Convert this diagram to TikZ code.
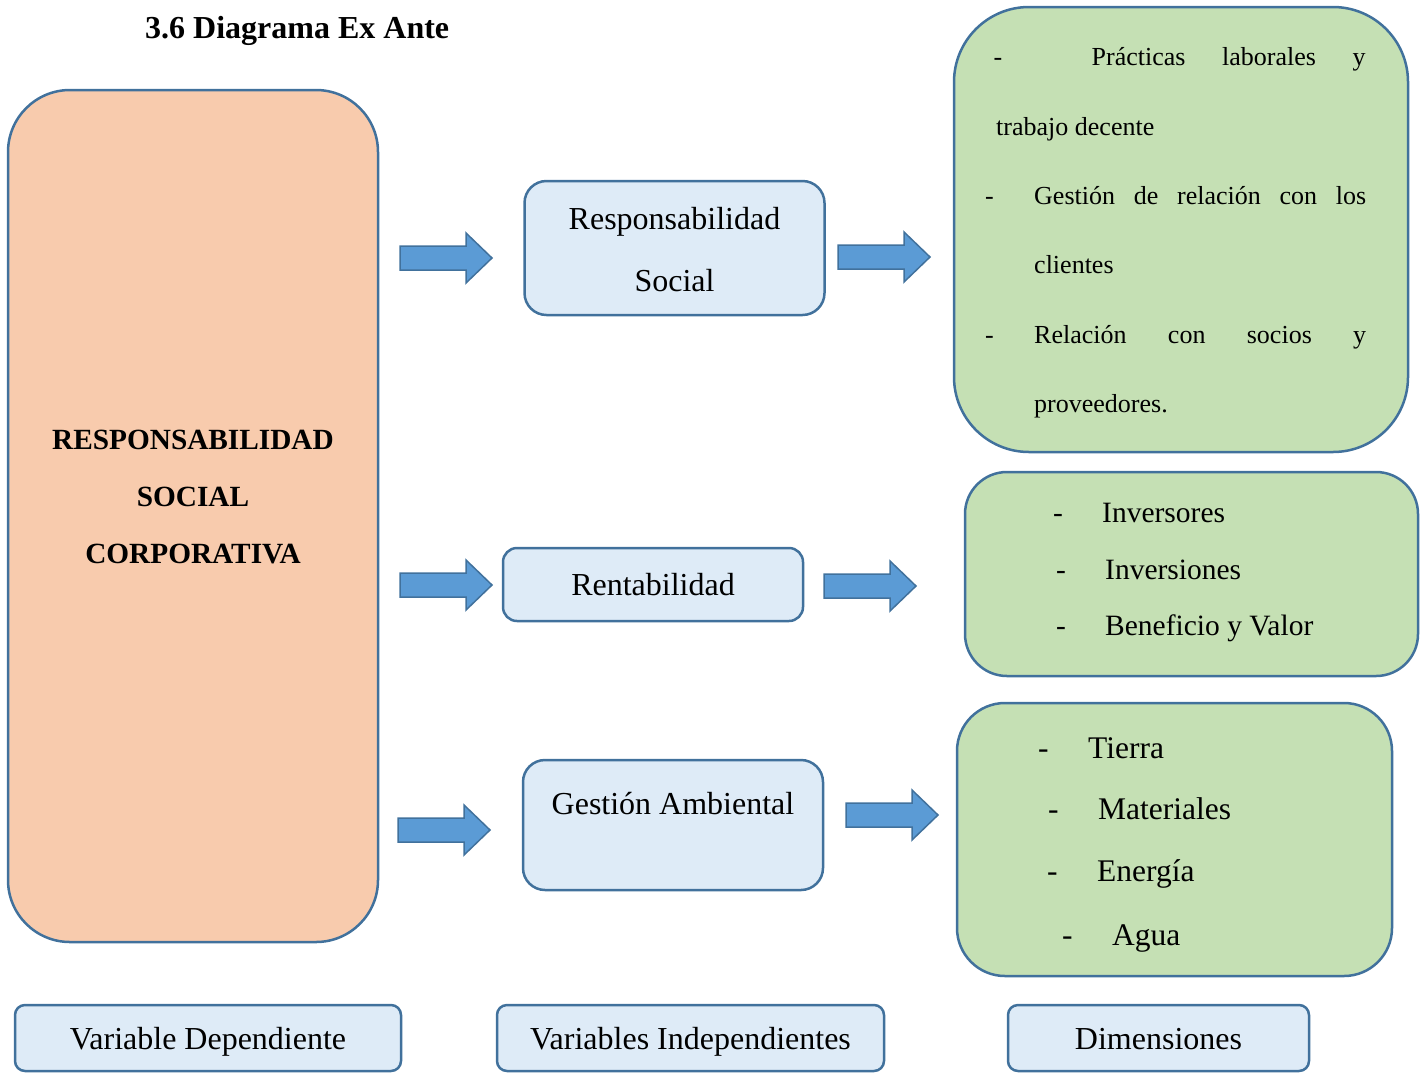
\documentclass[tikz,border=0pt]{standalone}
\usepackage{fontspec}
\setmainfont{Liberation Serif}
\definecolor{borde}{HTML}{41719C}
\definecolor{durazno}{HTML}{F8CBAD}
\definecolor{celeste}{HTML}{DEEBF7}
\definecolor{verde}{HTML}{C5E0B4}
\definecolor{azul}{HTML}{5B9BD5}
% flecha de bloque: punto izquierdo central
\newcommand{\flecha}[2]{\draw[flechabloque] (#1,#2) ++(0,-12) -- ++(66,0) -- ++(0,-13) -- ++(26,25) -- ++(-26,25) -- ++(0,-13) -- ++(-66,0) -- cycle;}
\begin{document}
\begin{tikzpicture}[x=1pt, y=-1pt,
    cajaprin/.style={draw=borde, line width=2.5pt, fill=durazno, rounded corners=62pt, minimum width=370pt, minimum height=852pt},
    cajaind/.style={draw=borde, line width=2.5pt, fill=celeste, minimum width=300pt, font=\fontsize{32}{62}\selectfont, align=center},
    cajadim/.style={draw=borde, line width=2.5pt, fill=verde},
    cajaley/.style={draw=borde, line width=2.5pt, fill=celeste, rounded corners=10pt, minimum height=66pt, text height=22pt, text depth=0pt, font=\fontsize{32}{36}\selectfont},
    textoind/.style={font=\fontsize{32}{36}\selectfont},
    renglon/.style={anchor=base west, inner sep=0pt},
    flechabloque/.style={draw=borde, fill=azul, line width=1.5pt}]
\useasboundingbox (0,0) rectangle (1426,1072);

\node[anchor=base west, inner sep=0pt, font=\bfseries\fontsize{32}{36}\selectfont] (titulo) at (145,38) {3.6 Diagrama Ex Ante};

% variable dependiente
\node[cajaprin] (rsc) at (193,516) {};
\node[font=\bfseries\fontsize{29.3}{57}\selectfont, align=center] (rsct) at (193,497) {RESPONSABILIDAD\\SOCIAL\\CORPORATIVA};

% variables independientes
\node[cajaind, rounded corners=22pt, minimum height=134pt] (rs) at (674.5,248) {};
\node[textoind, font=\fontsize{32}{62}\selectfont, align=center] (rst) at (674.5,250) {Responsabilidad\\Social};
\node[cajaind, rounded corners=14pt, minimum height=73pt, text height=22pt, text depth=0pt] (rent) at (653,584.5) {Rentabilidad};
\node[cajaind, rounded corners=22pt, minimum height=130pt] (ga) at (673,825) {};
\node[textoind] (gat) at (673,804) {Gestión Ambiental};

% flechas
\flecha{400}{258}
\flecha{400}{585}
\flecha{398}{830}
\flecha{838}{257}
\flecha{824}{586}
\flecha{846}{815}

% dimensiones
\node[cajadim, rounded corners=75pt, minimum width=454pt, minimum height=445pt] (d1) at (1181,229.5) {};
\begin{scope}[every node/.style={font=\fontsize{26}{30}\selectfont}]
\node[renglon] (d1a) at (993.5,65.7) {\makebox[372pt][l]{\makebox[98pt][l]{-}Prácticas\hfill laborales\hfill y}};
\node[renglon] (d1b) at (996,135) {trabajo decente};
\node[renglon] (d1c) at (985,204.3) {\makebox[381pt][l]{\makebox[49pt][l]{-}Gestión\hfill de\hfill relación\hfill con\hfill los}};
\node[renglon] (d1d) at (1034,273.6) {clientes};
\node[renglon] (d1e) at (985,343) {\makebox[381pt][l]{\makebox[49pt][l]{-}Relación\hfill con\hfill socios\hfill y}};
\node[renglon] (d1f) at (1034,412.4) {proveedores.};
\end{scope}

\node[cajadim, rounded corners=42pt, minimum width=453pt, minimum height=204pt] (d2) at (1191.5,574) {};
\begin{scope}[every node/.style={font=\fontsize{29.5}{34}\selectfont}]
\node[renglon] (d2a) at (1053,522.3) {\makebox[49pt][l]{-}Inversores};
\node[renglon] (d2b) at (1056,579) {\makebox[49pt][l]{-}Inversiones};
\node[renglon] (d2c) at (1056,635.7) {\makebox[49pt][l]{-}Beneficio y Valor};
\end{scope}

\node[cajadim, rounded corners=48pt, minimum width=435pt, minimum height=273pt] (d3) at (1174.5,839.5) {};
\begin{scope}[every node/.style={font=\fontsize{31.5}{36}\selectfont}]
\node[renglon] (d3a) at (1038,758.3) {\makebox[50pt][l]{-}Tierra};
\node[renglon] (d3b) at (1048,819.3) {\makebox[50pt][l]{-}Materiales};
\node[renglon] (d3c) at (1047,881.7) {\makebox[50pt][l]{-}Energía};
\node[renglon] (d3d) at (1062,945) {\makebox[50pt][l]{-}Agua};
\end{scope}

% leyenda
\node[cajaley, minimum width=386pt] (l1) at (208,1038) {Variable Dependiente};
\node[cajaley, minimum width=387pt] (l2) at (690.5,1038) {Variables Independientes};
\node[cajaley, minimum width=301pt] (l3) at (1158.5,1038) {Dimensiones};
\end{tikzpicture}
\end{document}
